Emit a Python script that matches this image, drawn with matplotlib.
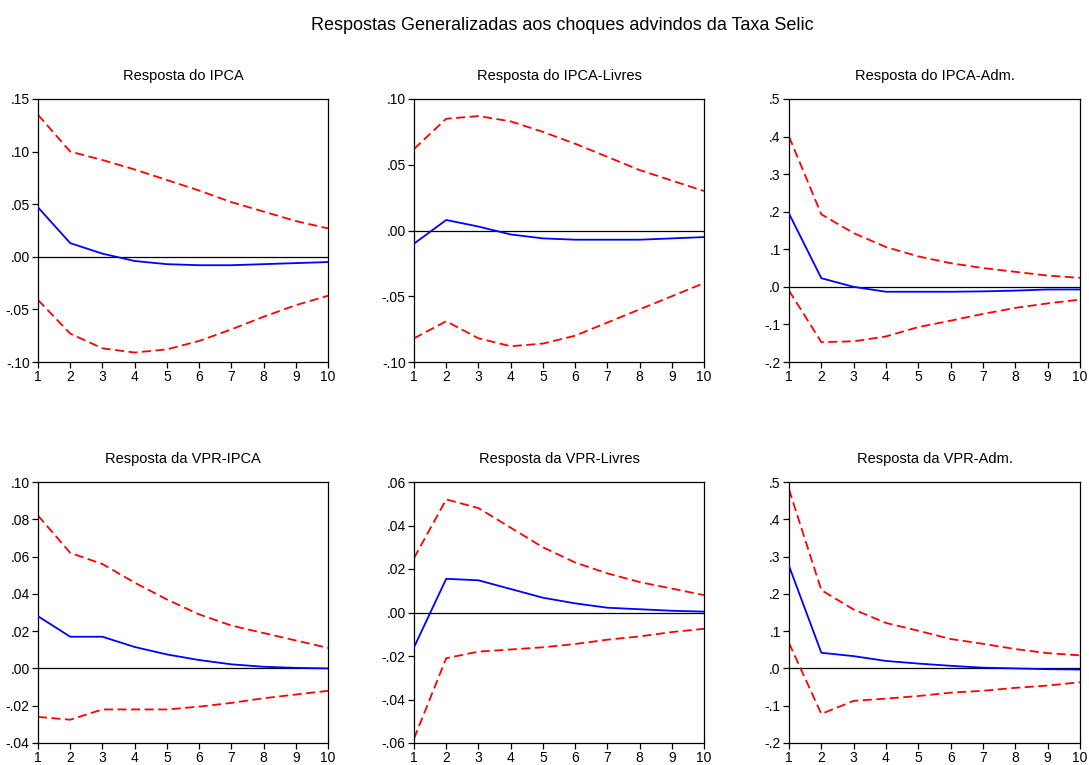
import matplotlib
matplotlib.use("Agg")
import matplotlib.pyplot as plt
from matplotlib.ticker import FuncFormatter, FixedLocator

plt.rcParams['font.family'] = ['Liberation Sans', 'DejaVu Sans']

periods = [1, 2, 3, 4, 5, 6, 7, 8, 9, 10]

titles = ["Resposta do IPCA", "Resposta do IPCA-Livres", "Resposta do IPCA-Adm.",
          "Resposta da VPR-IPCA", "Resposta da VPR-Livres", "Resposta da VPR-Adm."]

ipca_mid = [0.047, 0.013, 0.003, -0.004, -0.007, -0.008, -0.008, -0.007, -0.006, -0.005]
ipca_up = [0.135, 0.100, 0.092, 0.083, 0.073, 0.063, 0.052, 0.043, 0.034, 0.027]
ipca_lo = [-0.041, -0.073, -0.087, -0.091, -0.088, -0.080, -0.069, -0.057, -0.046, -0.037]

livres_mid = [-0.010, 0.008, 0.003, -0.003, -0.006, -0.007, -0.007, -0.007, -0.006, -0.005]
livres_up = [0.062, 0.085, 0.087, 0.083, 0.075, 0.066, 0.056, 0.046, 0.038, 0.030]
livres_lo = [-0.082, -0.069, -0.082, -0.088, -0.086, -0.080, -0.070, -0.060, -0.050, -0.040]

adm_mid = [0.195, 0.023, 0.0, -0.013, -0.013, -0.013, -0.012, -0.010, -0.007, -0.007]
adm_up = [0.400, 0.193, 0.143, 0.106, 0.081, 0.063, 0.050, 0.040, 0.030, 0.024]
adm_lo = [-0.010, -0.147, -0.145, -0.132, -0.107, -0.090, -0.072, -0.056, -0.044, -0.034]

vpr_ipca_mid = [0.028, 0.017, 0.017, 0.0115, 0.0075, 0.0045, 0.0022, 0.0009, 0.0003, 0.0]
vpr_ipca_up = [0.082, 0.062, 0.056, 0.046, 0.037, 0.029, 0.023, 0.019, 0.015, 0.011]
vpr_ipca_lo = [-0.026, -0.0275, -0.022, -0.022, -0.022, -0.0205, -0.0185, -0.016, -0.014, -0.012]

vpr_livres_mid = [-0.016, 0.0155, 0.0148, 0.0108, 0.0068, 0.0042, 0.0022, 0.0015, 0.0008, 0.0004]
vpr_livres_up = [0.025, 0.052, 0.048, 0.039, 0.030, 0.023, 0.018, 0.014, 0.011, 0.008]
vpr_livres_lo = [-0.058, -0.021, -0.018, -0.017, -0.016, -0.0145, -0.0125, -0.011, -0.009, -0.0075]

vpr_adm_mid = [0.275, 0.042, 0.033, 0.020, 0.013, 0.007, 0.002, 0.0, -0.002, -0.003]
vpr_adm_up = [0.480, 0.210, 0.158, 0.122, 0.101, 0.079, 0.066, 0.052, 0.041, 0.035]
vpr_adm_lo = [0.068, -0.122, -0.087, -0.081, -0.074, -0.065, -0.060, -0.052, -0.046, -0.037]

yticks_list = [
    [-0.10, -0.05, 0.0, 0.05, 0.10, 0.15],
    [-0.10, -0.05, 0.0, 0.05, 0.10],
    [-0.2, -0.1, 0.0, 0.1, 0.2, 0.3, 0.4, 0.5],
    [-0.04, -0.02, 0.0, 0.02, 0.04, 0.06, 0.08, 0.10],
    [-0.06, -0.04, -0.02, 0.0, 0.02, 0.04, 0.06],
    [-0.2, -0.1, 0.0, 0.1, 0.2, 0.3, 0.4, 0.5],
]
decimals = [2, 2, 1, 2, 2, 1]

series = [
    (ipca_mid, ipca_up, ipca_lo),
    (livres_mid, livres_up, livres_lo),
    (adm_mid, adm_up, adm_lo),
    (vpr_ipca_mid, vpr_ipca_up, vpr_ipca_lo),
    (vpr_livres_mid, vpr_livres_up, vpr_livres_lo),
    (vpr_adm_mid, vpr_adm_up, vpr_adm_lo),
]

W, H = 1089, 765
fig = plt.figure(figsize=(W / 100, H / 100), dpi=100)

lefts = [38, 414, 789]
widths = [290, 290, 291]
tops = [99, 482]
bottoms = [362, 743]


def make_fmt(d):
    def f(v, pos):
        s = f"{v:.{d}f}"
        s = s.replace("0.", ".", 1)
        if s.startswith("-") and float(s) == 0:
            s = s[1:]
        return s
    return FuncFormatter(f)


for i in range(6):
    r, c = divmod(i, 3)
    l = lefts[c] / W
    w = widths[c] / W
    b = (H - bottoms[r]) / H
    h = (bottoms[r] - tops[r]) / H
    ax = fig.add_axes([l, b, w, h])
    mid, up, lo = series[i]
    ax.axhline(0, color='black', lw=0.9, zorder=1)
    ax.plot(periods, up, color='#ff0000', lw=1.3, ls=(0, (5, 2.5)), zorder=2)
    ax.plot(periods, lo, color='#ff0000', lw=1.3, ls=(0, (5, 2.5)), zorder=2)
    ax.plot(periods, mid, color='#0000ff', lw=1.3, zorder=3)
    ax.set_xlim(1, 10)
    yt = yticks_list[i]
    ax.set_ylim(yt[0], yt[-1])
    ax.yaxis.set_major_locator(FixedLocator(yt))
    ax.yaxis.set_major_formatter(make_fmt(decimals[i]))
    ax.set_xticks(periods)
    ax.tick_params(direction='out', length=4, width=0.9, labelsize=10, pad=2)
    for sp in ax.spines.values():
        sp.set_linewidth(0.9)
    ax.set_title(titles[i], fontsize=10.5, pad=14)

fig.text(562 / W, 1 - 25 / H, "Respostas Generalizadas aos choques advindos da Taxa Selic",
         ha='center', va='center', fontsize=13)

fig.savefig("out.png", dpi=100)
